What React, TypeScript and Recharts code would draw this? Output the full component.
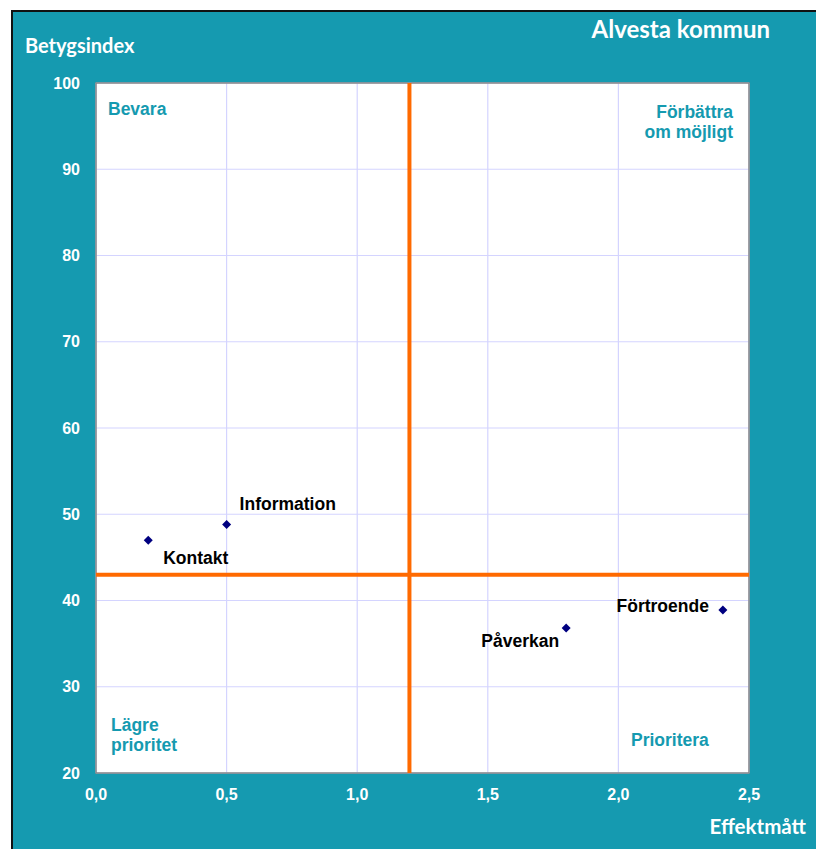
import React from "react";
import {
  ScatterChart,
  Scatter,
  XAxis,
  YAxis,
  CartesianGrid,
  ReferenceLine,
  ReferenceArea,
} from "recharts";

const names = ["Kontakt", "Information", "Påverkan", "Förtroende"];
const effekt = [0.2, 0.5, 1.8, 2.4];
const betyg = [47, 48.8, 36.8, 38.9];
const xTicks = [0, 0.5, 1, 1.5, 2, 2.5];
const yTicks = [20, 30, 40, 50, 60, 70, 80, 90, 100];
const xSplit = 1.2;
const ySplit = 43;

const data = names.map((n, i) => ({ name: n, x: effekt[i], y: betyg[i] }));

const TEAL = "#159AB0";
const LABEL_FONT = "'Liberation Sans', Arial, sans-serif";
const TITLE_FONT = "Lato, 'Open Sans', sans-serif";

const labelPlacement: Record<string, { dx: number; dy: number; anchor: string }> = {
  Kontakt: { dx: 15, dy: 19, anchor: "start" },
  Information: { dx: 13, dy: -19, anchor: "start" },
  Påverkan: { dx: -7, dy: 14, anchor: "end" },
  Förtroende: { dx: -14, dy: -3, anchor: "end" },
};

const Diamond = (props: any) => {
  const { cx, cy, payload } = props;
  const p = labelPlacement[payload.name];
  const r = 4.5;
  return (
    <g>
      <polygon
        points={`${cx},${cy - r} ${cx + r},${cy} ${cx},${cy + r} ${cx - r},${cy}`}
        fill="#000080"
      />
      <text
        x={cx + p.dx}
        y={cy + p.dy}
        textAnchor={p.anchor as any}
        dominantBaseline="middle"
        fontFamily={LABEL_FONT}
        fontWeight="bold"
        fontSize={17.5}
        fill="#000"
      >
        {payload.name}
      </text>
    </g>
  );
};

const fmtX = (v: number) => v.toFixed(1).replace(".", ",");

export default function App() {
  return (
    <div style={{ position: "absolute", left: 0, top: 0, width: 816, height: 849, background: "#fff" }}>
      <div
        style={{
          position: "absolute",
          left: 11,
          top: 10,
          width: 805,
          height: 839,
          background: TEAL,
          borderTop: "2px solid #111",
          borderLeft: "2px solid #111",
          boxSizing: "border-box",
        }}
      />
      <div style={{ position: "absolute", left: 0, top: 0 }}>
        <ScatterChart
          width={816}
          height={849}
          margin={{ top: 83, right: 67, bottom: 0, left: 0 }}
        >
          <CartesianGrid
            fill="#ffffff"
            stroke="#D4D4FF"
            strokeWidth={1.2}
            horizontalValues={yTicks}
            verticalValues={xTicks}
          />
          <XAxis
            type="number"
            dataKey="x"
            domain={[0, 2.5]}
            ticks={xTicks}
            tickFormatter={fmtX}
            height={76}
            axisLine={false}
            tickLine={false}
            tickSize={0}
            tickMargin={16}
            tick={{ fill: "#fff", fontSize: 16, fontWeight: "bold", fontFamily: LABEL_FONT }}
          />
          <YAxis
            type="number"
            dataKey="y"
            domain={[20, 100]}
            ticks={yTicks}
            width={96}
            axisLine={false}
            tickLine={false}
            tickSize={0}
            tickMargin={16}
            tick={{ fill: "#fff", fontSize: 16, fontWeight: "bold", fontFamily: LABEL_FONT }}
          />
          <ReferenceArea
            x1={0}
            x2={2.5}
            y1={20}
            y2={100}
            fill="none"
            stroke="#888"
            strokeWidth={1.5}
            ifOverflow="extendDomain"
          />
          <ReferenceLine x={xSplit} stroke="#FF6A00" strokeWidth={4} />
          <ReferenceLine y={ySplit} stroke="#FF6A00" strokeWidth={4} />
          <Scatter data={data} shape={Diamond} isAnimationActive={false} />
        </ScatterChart>
      </div>
      <svg
        width={816}
        height={849}
        style={{ position: "absolute", left: 0, top: 0, pointerEvents: "none" }}
      >
        <text x={25} y={53} fontFamily={TITLE_FONT} fontWeight="bold" fontSize={20} fill="#fff">
          Betygsindex
        </text>
        <text x={770} y={38} textAnchor="end" fontFamily={TITLE_FONT} fontWeight="bold" fontSize={24} fill="#fff">
          Alvesta kommun
        </text>
        <text x={806} y={834} textAnchor="end" fontFamily={TITLE_FONT} fontWeight="bold" fontSize={20.5} fill="#fff">
          Effektmått
        </text>
        <g fontFamily={LABEL_FONT} fontWeight="bold" fontSize={17.5} fill={TEAL}>
          <text x={108} y={115}>Bevara</text>
          <text x={733} y={118} textAnchor="end">Förbättra</text>
          <text x={733} y={138} textAnchor="end">om möjligt</text>
          <text x={111} y={731}>Lägre</text>
          <text x={111} y={751}>prioritet</text>
          <text x={631} y={746}>Prioritera</text>
        </g>
      </svg>
    </div>
  );
}
